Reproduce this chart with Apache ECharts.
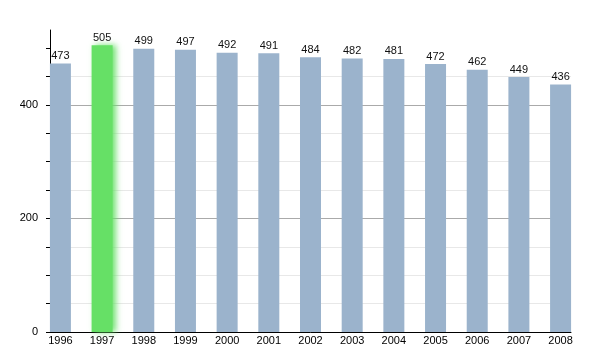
<!DOCTYPE html>
<html>
<head>
<meta charset="utf-8">
<style>
  html, body { margin: 0; padding: 0; background: #fff; }
  #chart { width: 600px; height: 350px; }
</style>
<script src="https://cdn.jsdelivr.net/npm/echarts@6/dist/echarts.min.js"></script>
</head>
<body>
<div id="chart"></div>
<script>
// Population by year
const years = ['1996', '1997', '1998', '1999', '2000', '2001', '2002', '2003', '2004', '2005', '2006', '2007', '2008'];
const population = [473, 505, 499, 497, 492, 491, 484, 482, 481, 472, 462, 449, 436];
const highlightYear = '1997';
const yTickValues = [0, 50, 100, 150, 200, 250, 300, 350, 400, 450, 500];
const yLabelValues = [0, 200, 400];

const barBlue = '#9bb3cc';
const barGreen = '#66e066';
const font = 'Liberation Sans, Arial, sans-serif';

const indices = years.map((_, i) => i);

const barData = population.map((v, i) => {
  const item = { value: [i, v] };
  if (years[i] === highlightYear) {
    item.itemStyle = {
      color: barGreen,
      shadowColor: 'rgba(102, 224, 102, 0.9)',
      shadowBlur: 6,
      shadowOffsetX: 3
    };
  }
  return item;
});

const chart = echarts.init(document.getElementById('chart'), null, { renderer: 'canvas' });
chart.setOption({
  animation: false,
  backgroundColor: '#fff',
  grid: { left: 50, right: 29, top: 30, bottom: 18 },
  xAxis: {
    type: 'value',
    min: -0.25,
    max: years.length - 0.75,
    axisLine: { show: true, onZero: false, lineStyle: { color: '#000', width: 1 } },
    axisTick: { show: false },
    splitLine: { show: false },
    axisLabel: {
      customValues: indices,
      formatter: v => years[Math.round(v)] || '',
      color: '#000',
      fontFamily: font,
      fontSize: 11,
      margin: 3
    }
  },
  yAxis: {
    type: 'value',
    min: 0,
    max: 532,
    interval: 50,
    axisLine: { show: true, onZero: false, lineStyle: { color: '#000', width: 1 } },
    axisTick: { show: true, customValues: yTickValues, length: 4, inside: false, lineStyle: { color: '#000' } },
    axisLabel: {
      customValues: yLabelValues,
      color: '#000',
      fontFamily: font,
      fontSize: 11,
      margin: 12
    },
    splitLine: {
      show: true,
      showMaxLine: false,
      lineStyle: { color: ['#aaaaaa', '#e8e8e8', '#e8e8e8', '#e8e8e8'], width: 1 }
    }
  },
  series: [{
    type: 'bar',
    data: barData,
    barWidth: 21,
    itemStyle: { color: barBlue },
    label: {
      show: true,
      position: 'top',
      distance: 2,
      formatter: p => p.value[1],
      color: '#111',
      fontFamily: font,
      fontSize: 11
    }
  }]
});
</script>
</body>
</html>
